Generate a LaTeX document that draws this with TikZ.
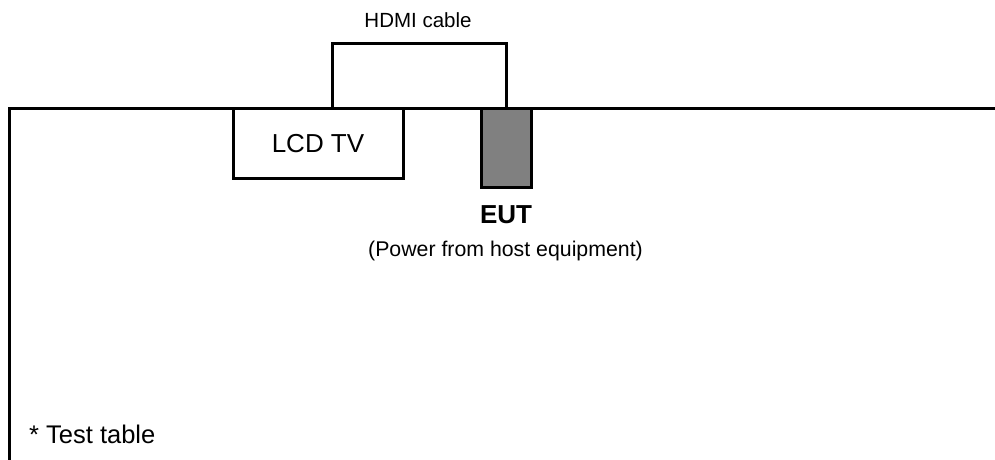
\documentclass[tikz,border=0pt]{standalone}
\usepackage{fontspec}
\setmainfont{Liberation Sans}
\begin{document}
\begin{tikzpicture}[x=1pt,y=-1pt,
  line/.style={line width=3pt},
  boxw/.style={draw, line width=3pt, fill=white, inner sep=0pt},
  lbl/.style={inner sep=0pt, anchor=base, font=\fontsize{#1}{#1}\selectfont},
]
\useasboundingbox (0,0) rectangle (995,460);
% table edge
\coordinate (tl) at (9,108);
\coordinate (tr) at (1000,108);
\coordinate (bl) at (9,465);
\draw[line, line join=miter] (bl) -- (tl) -- (tr);
% devices
\node[boxw, minimum width=170pt, minimum height=70pt] (lcd) at (318,143) {};
\node[lbl=26] (lcdlbl) at (318,152.5) {LCD TV};
\node[draw, line width=3pt, fill=black!50, inner sep=0pt, minimum width=50pt, minimum height=79pt] (eut) at (506.5,147.5) {};
% HDMI cable
\coordinate (cl) at (332,108);
\coordinate (ctop) at (420,44);
\draw[line, line join=miter] (cl) |- (ctop) -| (eut.north);
\node[lbl=20.5] (hdmi) at (418,28) {HDMI cable};
\node[lbl=26, font=\fontsize{26}{26}\selectfont\bfseries] (eutlbl) at (506,223) {EUT};
\node[lbl=21.3] (pwr) at (505.5,256) {(Power from host equipment)};
\node[lbl=25.5, anchor=base west] (tt) at (29,443) {* Test table};
\end{tikzpicture}
\end{document}
